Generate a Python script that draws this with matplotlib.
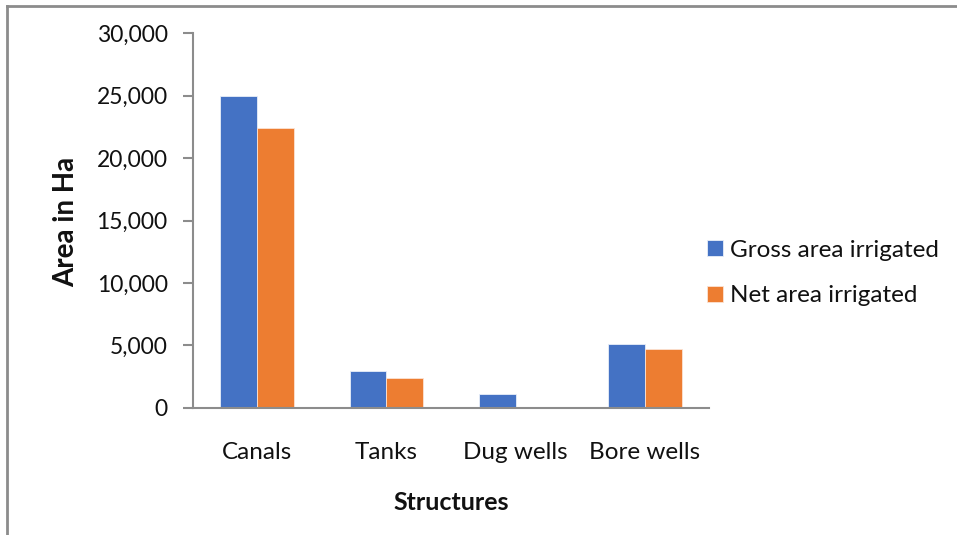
import matplotlib
matplotlib.use("Agg")
import matplotlib.pyplot as plt
import numpy as np
from matplotlib.lines import Line2D
from matplotlib.ticker import FuncFormatter

categories = ["Canals", "Tanks", "Dug wells", "Bore wells"]
gross_area = [25000, 2950, 1100, 5100]
net_area = [22450, 2400, 80, 4680]
series_names = ["Gross area irrigated", "Net area irrigated"]
y_ticks = [0, 5000, 10000, 15000, 20000, 25000, 30000]

BLUE = "#4472C4"
ORANGE = "#ED7D31"
AXIS = "#8C8C8C"
FONT = "Lato"

W, H = 957, 535
fig = plt.figure(figsize=(W / 100, H / 100), dpi=100)
ax = fig.add_axes([192.7 / W, 1 - 407.7 / H, (709.5 - 192.7) / W, (407.7 - 33.3) / H])

x = np.arange(len(categories))
bw = 0.286
ax.bar(x - bw / 2, gross_area, bw, color=BLUE, edgecolor="#E8EEF8", linewidth=0.6,
       label=series_names[0], zorder=2)
ax.bar(x + bw / 2, net_area, bw, color=ORANGE, edgecolor="#FBE3D3", linewidth=0.6,
       label=series_names[1], zorder=2)

ax.set_xlim(-0.5, len(categories) - 0.5)
ax.set_ylim(0, 30000)
ax.set_yticks(y_ticks)
ax.yaxis.set_major_formatter(FuncFormatter(lambda v, p: f"{int(v):,}"))
ax.set_xticks(x)
ax.set_xticklabels(categories)

for s in ["top", "right"]:
    ax.spines[s].set_visible(False)
for s in ["left", "bottom"]:
    ax.spines[s].set_color(AXIS)
    ax.spines[s].set_linewidth(1.5)
ax.tick_params(axis="y", direction="out", length=7, width=1.5, color=AXIS,
               labelsize=16.5, pad=11, labelcolor="#111111")
ax.tick_params(axis="x", length=0, labelsize=17.5, pad=25, labelcolor="#111111")
for lab in ax.get_xticklabels() + ax.get_yticklabels():
    lab.set_fontfamily(FONT)

fig.text(66 / W, 1 - 222 / H, "Area in Ha", rotation=90, ha="center", va="center",
         fontsize=20, fontweight="bold", fontfamily=FONT, color="#111111")
fig.text(451 / W, 1 - 502 / H, "Structures", ha="center", va="center",
         fontsize=18, fontweight="bold", fontfamily=FONT, color="#111111")

leg = fig.legend(loc="upper left", bbox_to_anchor=(685 / W, 1 - 218 / H),
                 frameon=False, handlelength=0.65, handleheight=0.65,
                 handletextpad=0.3, labelspacing=1.0, prop={"family": FONT, "size": 17.5})
for t in leg.get_texts():
    t.set_color("#111111")

# outer frame lines along the top and left edges
fig.add_artist(Line2D([7 / W, 1], [1 - 6 / H, 1 - 6 / H], transform=fig.transFigure,
                      color=AXIS, linewidth=2))
fig.add_artist(Line2D([7 / W, 7 / W], [0, 1 - 6 / H], transform=fig.transFigure,
                      color=AXIS, linewidth=2))

fig.savefig("out.png", dpi=100)
